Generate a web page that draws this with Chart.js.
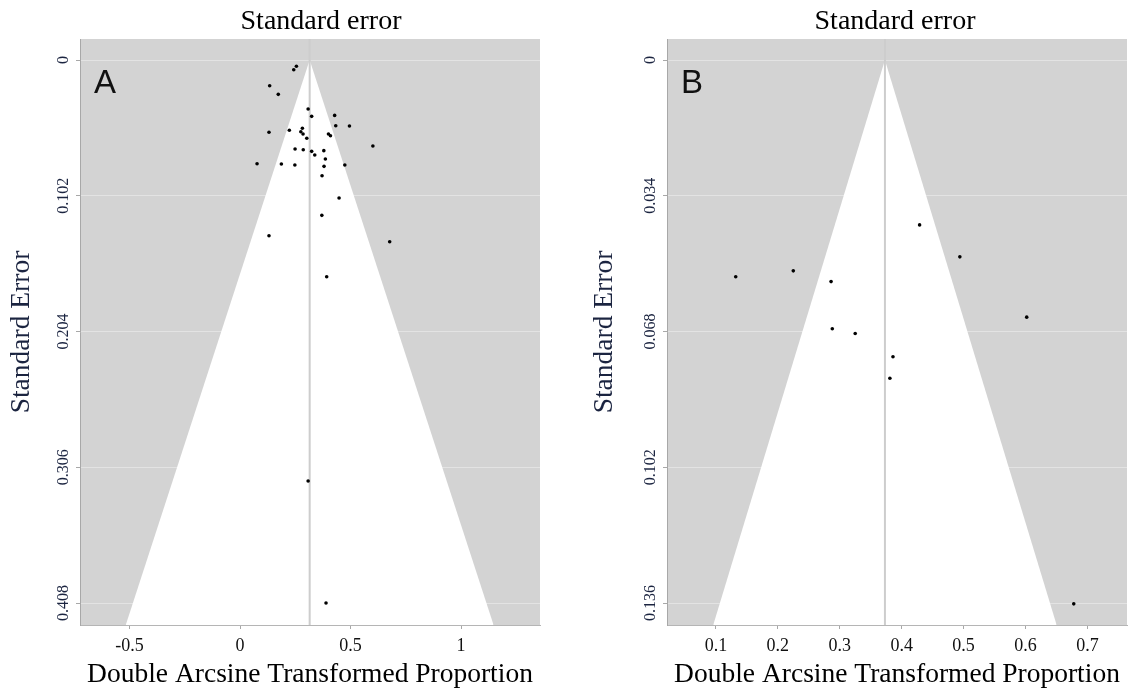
<!DOCTYPE html>
<html>
<head>
<meta charset="utf-8">
<script src="https://cdn.jsdelivr.net/npm/chart.js@4/dist/chart.umd.min.js"></script>
<style>
  html, body { margin: 0; padding: 0; width: 1133px; height: 693px; overflow: hidden; background: #fff; }
  canvas { position: absolute; top: 0; }
  #panelA { left: 0; }
  #panelB { left: 575px; }
</style>
</head>
<body>
<canvas id="panelA" width="642" height="693"></canvas>
<canvas id="panelB" width="640" height="693"></canvas>
<script>
// ---- Panel A: effect sizes (double arcsine) and their standard errors ----
const effectA = [0.255, 0.243, 0.134, 0.173, 0.308, 0.324, 0.428, 0.433, 0.495, 0.131,
                 0.223, 0.282, 0.275, 0.285, 0.302, 0.400, 0.409, 0.601, 0.249, 0.286,
                 0.324, 0.379, 0.338, 0.386, 0.077, 0.187, 0.248, 0.380, 0.474, 0.371,
                 0.448, 0.370, 0.131, 0.677, 0.392, 0.308, 0.389];
const seA     = [0.0047, 0.0073, 0.0193, 0.0258, 0.0368, 0.0423, 0.0416, 0.0494, 0.0496, 0.0543,
                 0.0528, 0.0513, 0.0539, 0.0556, 0.0588, 0.0556, 0.0569, 0.0646, 0.0669, 0.0674,
                 0.0686, 0.0681, 0.0714, 0.0744, 0.0779, 0.0781, 0.0789, 0.0799, 0.0789, 0.0869,
                 0.1037, 0.1167, 0.1320, 0.1365, 0.1628, 0.3163, 0.4080];
const pooledA = 0.315;
const xTicksA = [-0.5, 0, 0.5, 1];
const xTickLabelsA = ['-0.5', '0', '0.5', '1'];
const yTicksA = [0, 0.102, 0.204, 0.306, 0.408];
const yTickLabelsA = ['0', '0.102', '0.204', '0.306', '0.408'];

// ---- Panel B ----
const effectB = [0.429, 0.132, 0.225, 0.286, 0.288, 0.325, 0.386, 0.381, 0.494, 0.602, 0.678];
const seB     = [0.0413, 0.0543, 0.0528, 0.0555, 0.0673, 0.0685, 0.0743, 0.0797, 0.0493, 0.0644, 0.1362];
const pooledB = 0.373;
const xTicksB = [0.1, 0.2, 0.3, 0.4, 0.5, 0.6, 0.7];
const xTickLabelsB = ['0.1', '0.2', '0.3', '0.4', '0.5', '0.6', '0.7'];
const yTicksB = [0, 0.034, 0.068, 0.102, 0.136];
const yTickLabelsB = ['0', '0.034', '0.068', '0.102', '0.136'];

const Z = 1.96; // pseudo 95% confidence limits of the funnel
const SERIF = '"Liberation Serif", "Times New Roman", serif';
const SANS = '"Liberation Sans", Arial, sans-serif';

// gray plotting region drawn under grid and funnel
const plotBackground = {
  id: 'plotBackground',
  beforeDraw(chart) {
    const { ctx, chartArea: a } = chart;
    ctx.save();
    ctx.fillStyle = '#d3d3d3';
    ctx.fillRect(a.left, a.top, a.right - a.left, a.bottom - a.top);
    ctx.restore();
  }
};

// panel letter in the upper-left corner of the plot
const panelLetter = {
  id: 'panelLetter',
  afterDraw(chart, args, opts) {
    const { ctx, chartArea: a } = chart;
    ctx.save();
    ctx.font = '33px ' + SANS;
    ctx.fillStyle = '#111';
    ctx.textBaseline = 'alphabetic';
    ctx.textAlign = 'left';
    ctx.fillText(opts.text, a.left + 14, a.top + 54);
    ctx.restore();
  }
};

function funnelChart(id, p) {
  const left = p.pooled - Z * p.yMax;
  const right = p.pooled + Z * p.yMax;
  return new Chart(document.getElementById(id), {
    type: 'scatter',
    data: {
      datasets: [
        { // white funnel region
          type: 'line',
          data: [{ x: left, y: p.yMax }, { x: p.pooled, y: 0 }, { x: right, y: p.yMax }],
          fill: { value: p.yMax },
          backgroundColor: '#ffffff',
          borderColor: 'rgba(0,0,0,0)',
          borderWidth: 0,
          pointRadius: 0,
          order: 3
        },
        { // pooled estimate
          type: 'line',
          data: [{ x: p.pooled, y: p.yMin }, { x: p.pooled, y: p.yMax }],
          borderColor: '#cdcdcd',
          borderWidth: 2,
          pointRadius: 0,
          fill: false,
          order: 2
        },
        { // studies
          type: 'scatter',
          data: p.effect.map((e, i) => ({ x: e, y: p.se[i] })),
          backgroundColor: '#000',
          borderWidth: 0,
          pointRadius: 1.8,
          order: 1
        }
      ]
    },
    options: {
      responsive: false,
      animation: false,
      devicePixelRatio: 1,
      layout: { padding: 0 },
      plugins: {
        legend: { display: false },
        tooltip: { enabled: false },
        title: {
          display: true,
          text: 'Standard error',
          color: '#000',
          font: { family: SERIF, size: 28, weight: 'normal' },
          padding: { top: 4.5, bottom: 0.9 }
        },
        panelLetter: { text: p.letter }
      },
      scales: {
        x: {
          type: 'linear',
          min: p.xMin,
          max: p.xMax,
          afterBuildTicks: s => { s.ticks = p.xTicks.map(v => ({ value: v })); },
          afterFit: s => { s.height = 68; },
          ticks: {
            callback: (v, i) => p.xTickLabels[i],
            font: { family: SERIF, size: 18 },
            color: '#111',
            padding: 6,
            minRotation: 0,
            maxRotation: 0,
            autoSkip: false
          },
          grid: { drawOnChartArea: false, drawTicks: true, tickLength: 4, tickColor: '#a8a8a8' },
          border: { display: true, color: '#b5b5b5', width: 1, z: 1 },
          title: {
            display: true,
            text: 'Double Arcsine Transformed Proportion',
            color: '#000',
            font: { family: SERIF, size: 27.5 },
            padding: { top: 0, bottom: 1.5 }
          }
        },
        y: {
          type: 'linear',
          position: 'left',
          reverse: true,
          min: p.yMin,
          max: p.yMax,
          afterBuildTicks: s => { s.ticks = p.yTicks.map(v => ({ value: v })); },
          afterFit: s => { s.width = p.yAxisWidth; },
          ticks: {
            callback: (v, i) => p.yTickLabels[i],
            font: { family: SERIF, size: 16 },
            color: '#1b2440',
            minRotation: 90,
            maxRotation: 90,
            crossAlign: 'center',
            padding: -6,
            autoSkip: false
          },
          grid: { color: '#e3e3e3', lineWidth: 1, drawTicks: true, tickLength: 4, tickColor: '#a8a8a8' },
          border: { display: true, color: '#a8a8a8', width: 1, z: 1 },
          title: {
            display: true,
            text: 'Standard Error',
            color: '#1b2440',
            font: { family: SERIF, size: 27.5 },
            padding: { top: p.yTitlePad, bottom: 0 }
          }
        },
        gap: {
          type: 'linear',
          position: 'right',
          display: true,
          ticks: { display: false },
          grid: { display: false },
          border: { display: false },
          afterFit: s => { s.width = p.rightGap; }
        }
      }
    },
    plugins: [plotBackground, panelLetter]
  });
}

funnelChart('panelA', {
  letter: 'A',
  effect: effectA, se: seA, pooled: pooledA,
  xMin: -0.724, xMax: 1.357, yMin: -0.0158, yMax: 0.4245,
  xTicks: xTicksA, xTickLabels: xTickLabelsA,
  yTicks: yTicksA, yTickLabels: yTickLabelsA,
  yAxisWidth: 80, rightGap: 102, yTitlePad: 5.5
});

funnelChart('panelB', {
  letter: 'B',
  effect: effectB, se: seB, pooled: pooledB,
  xMin: 0.021, xMax: 0.764, yMin: -0.00526, yMax: 0.1415,
  xTicks: xTicksB, xTickLabels: xTickLabelsB,
  yTicks: yTicksB, yTickLabels: yTickLabelsB,
  yAxisWidth: 92, rightGap: 88, yTitlePad: 13.5
});
</script>
</body>
</html>
